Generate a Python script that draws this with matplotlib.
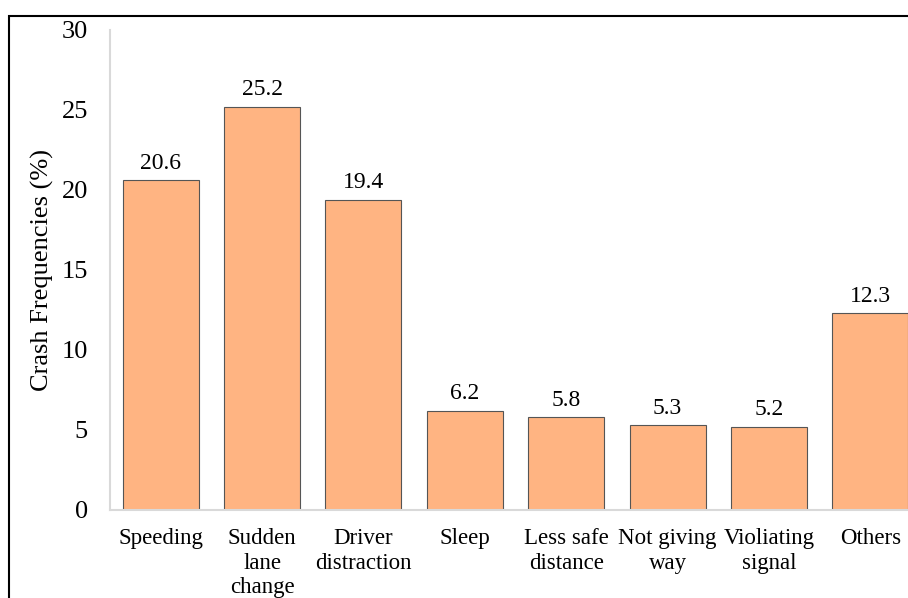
import matplotlib.pyplot as plt
from matplotlib.patches import Rectangle

categorias = ["Speeding", "Sudden\nlane\nchange", "Driver\ndistraction", "Sleep",
              "Less safe\ndistance", "Not giving\nway", "Violiating\nsignal", "Others"]
frequencias = [20.6, 25.2, 19.4, 6.2, 5.8, 5.3, 5.2, 12.3]
ticks_y = [0, 5, 10, 15, 20, 25, 30]

plt.rcParams["font.family"] = ["Liberation Serif", "DejaVu Serif"]

W, H = 908, 598
fig = plt.figure(figsize=(W / 100, H / 100), dpi=100)
ax = fig.add_axes([110 / W, 88 / H, 811 / W, 480 / H])

x = range(len(categorias))
ax.bar(x, frequencias, width=0.75, color="#FFB482", edgecolor="#555555", linewidth=0.8)
for xi, v in zip(x, frequencias):
    ax.text(xi, v + 0.4, f"{v}", ha="center", va="bottom", fontsize=17)

ax.set_xlim(-0.5, len(categorias) - 0.5)
ax.set_ylim(0, 30)
ax.set_yticks(ticks_y)
ax.tick_params(axis="y", length=0, pad=16, labelsize=19)
ax.set_xticks(list(x), categorias, fontsize=16.5, linespacing=1.22)
ax.tick_params(axis="x", length=0, pad=13)
ax.set_ylabel("Crash Frequencies (%)", fontsize=19, labelpad=5)

for s in ["top", "right"]:
    ax.spines[s].set_visible(False)
for s in ["left", "bottom"]:
    ax.spines[s].set_color("#d9d9d9")
    ax.spines[s].set_linewidth(1.5)

# moldura da figura (cortada à direita e embaixo)
fig.patches.append(Rectangle((9 / W, -0.1), 1.2, 1 - 16 / H + 0.1, transform=fig.transFigure,
                             fill=False, edgecolor="black", linewidth=1.5))

fig.savefig("out.png", dpi=100)
